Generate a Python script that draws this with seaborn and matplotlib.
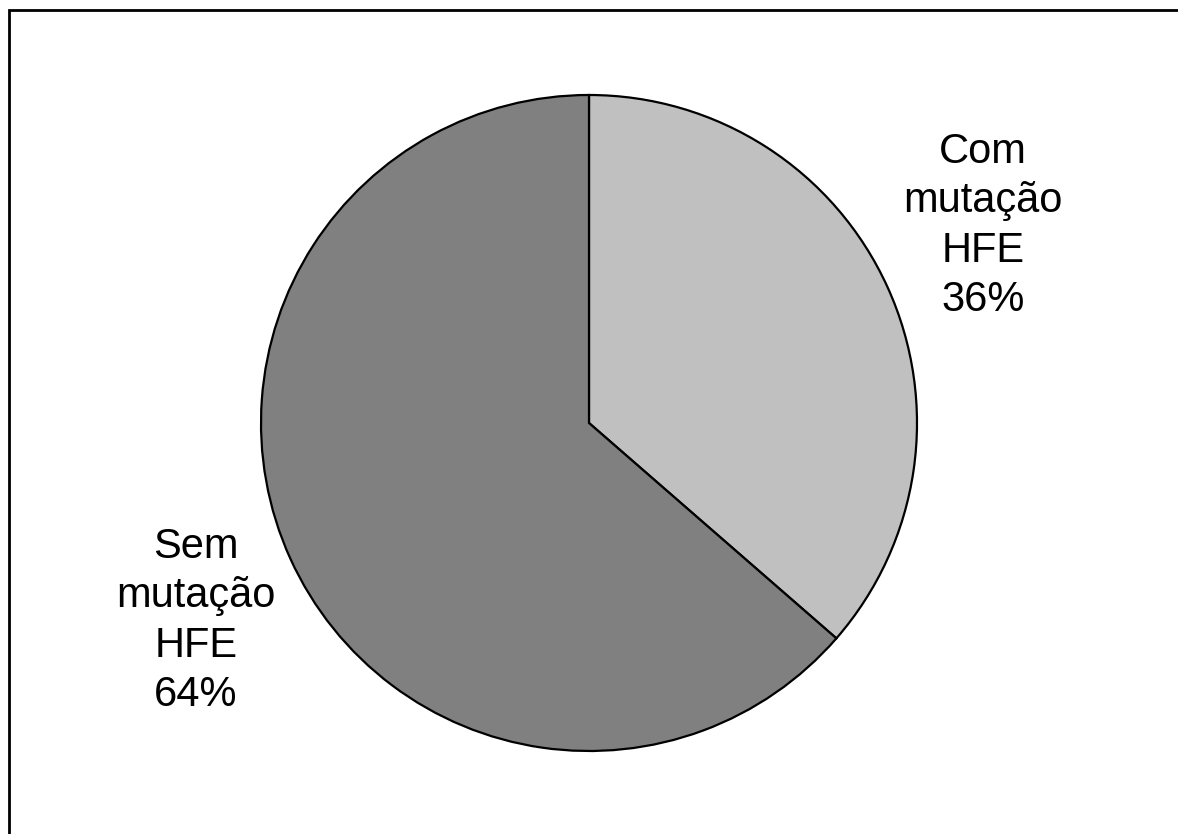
import matplotlib
matplotlib.use("Agg")
import matplotlib.pyplot as plt
import seaborn as sns
from matplotlib.patches import Rectangle

# data
categories = ["Com\nmutação\nHFE", "Sem\nmutação\nHFE"]
values = [36.4, 63.6]
colors = ["#C0C0C0", "#808080"]

sns.set_theme(style="white")
plt.rcParams['font.family'] = ['Liberation Sans', 'DejaVu Sans']

W, H = 1178, 834
fig = plt.figure(figsize=(W / 100, H / 100), dpi=100)
ax = fig.add_axes([0, 0, 1, 1])

# pie, clockwise from 12 o'clock
cx, cy, r = 589, H - 423, 328
wedges, _ = ax.pie(values, colors=colors, startangle=90, counterclock=False,
                   center=(cx, cy), radius=r, frame=True,
                   wedgeprops=dict(edgecolor='black', linewidth=1.6))
ax.set_xlim(0, W)
ax.set_ylim(0, H)
ax.set_aspect('equal')
ax.axis('off')

# labels outside the slices
label_pos = [(983, H - 226), (196, H - 621)]
for name, v, (lx, ly) in zip(categories, values, label_pos):
    ax.text(lx, ly, f"{name}\n{round(v)}%", ha='center', va='center',
            fontsize=30, linespacing=1.3, color='black')

# chart border (right and bottom edges fall outside the image)
fig.patches.append(Rectangle((9 / W, -0.05), 1.1, 1 - 10 / H + 0.05,
                             transform=fig.transFigure, fill=False,
                             edgecolor='black', linewidth=2))

fig.savefig("out.png", dpi=100)
